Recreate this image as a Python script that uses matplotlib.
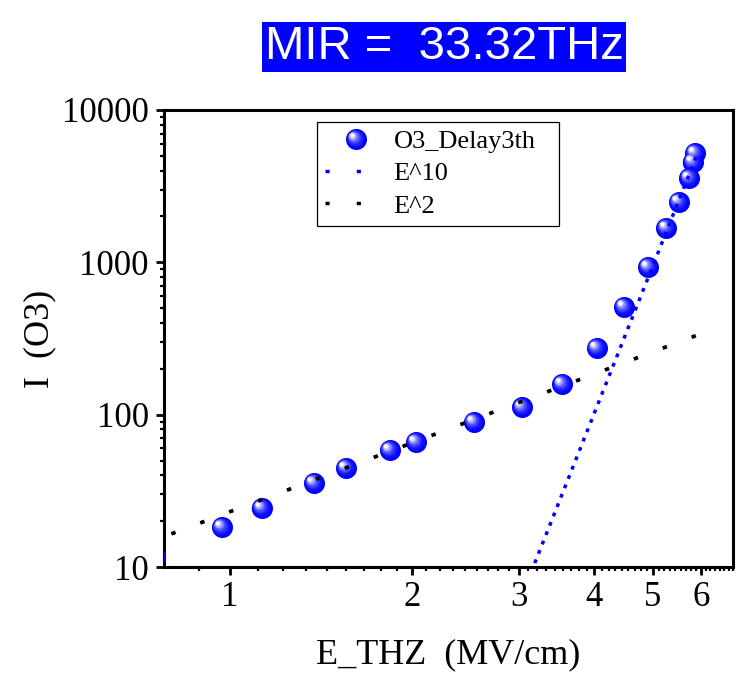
import numpy as np
import matplotlib
matplotlib.use("Agg")
import matplotlib.pyplot as plt
from matplotlib.lines import Line2D
from matplotlib.legend_handler import HandlerBase
from matplotlib.transforms import offset_copy
from matplotlib.ticker import FixedLocator, FuncFormatter, LogLocator

# --------------------------------------------
# DATA
# --------------------------------------------
e_thz = [0.753, 0.970, 1.129, 1.377, 1.555, 1.838, 2.03, 2.53, 3.04, 3.54,
         4.04, 4.48, 4.91, 5.26, 5.52, 5.74, 5.82, 5.87]
i_o3 = [11.6, 18.3, 24.4, 35.6, 44.7, 58.7, 66.2, 89.5, 112, 159,
        274, 510, 933, 1682, 2493, 3581, 4563, 5226]

# guide lines, endpoints only (straight on log-log)
e10_x = [3.10, 5.90]
e10_y = [8.0, 4990]
e2_x = [0.80, 5.92]
e2_y = [16.5, 333]

x_major = [1, 2, 3, 4, 5, 6]
title_text = "MIR =  33.32THz"

BLUE = "#0000ff"
PX = 72.0 / 100  # points per pixel at dpi 100
SERIF = "Liberation Serif"

fig = plt.figure(figsize=(7.52, 6.76), dpi=100)
ax = fig.add_axes([164 / 752, 1 - 567 / 676, (733 - 164) / 752, (567 - 110) / 676])
ax.set_xscale("log")
ax.set_yscale("log")
ax.set_xlim(0.778, 6.78)
ax.set_ylim(10, 10000)


# --------------------------------------------
# shaded "sphere" markers
# --------------------------------------------
def sphere_layers(n=12, diam_px=21):
    out = []
    for i in range(n):
        t = i / (n - 1)
        d = diam_px * (1 - 0.82 * t)
        w = t ** 2.0
        col = (w, w, 1.0)
        out.append((d * PX, col, -3.3 * t, 3.0 * t))
    return out


for ms, col, dx, dy in sphere_layers():
    tr = offset_copy(ax.transData, fig=fig, x=dx, y=dy, units="points")
    ax.plot(e_thz, i_o3, "o", ms=ms, mfc=col, mec="none", transform=tr,
            zorder=3, clip_on=True)

dot_blue = (0, (1.1, 1.8))
dot_black = (0, (1.2, 7.04))
ax.plot(e10_x, e10_y, color=BLUE, lw=2.5, ls=dot_blue, dash_capstyle="butt", zorder=4)
ax.plot(e2_x, e2_y, color="black", lw=2.7, ls=dot_black, dash_capstyle="butt", zorder=4)


class SphereHandler(HandlerBase):
    def create_artists(self, legend, orig_handle, xdescent, ydescent,
                       width, height, fontsize, trans):
        cx = width * 0.74 - xdescent
        cy = height / 2 - ydescent
        arts = []
        for ms, col, dx, dy in sphere_layers():
            ln = Line2D([cx + dx], [cy + dy], marker="o", ms=ms, mfc=col,
                        mec="none", ls="none", transform=trans)
            arts.append(ln)
        return arts


sphere_proxy = Line2D([], [], ls="none", marker="o")
leg_dots = (0, (1.2, 7.8))
h10 = Line2D([], [], color=BLUE, lw=2.5, ls=leg_dots, dash_capstyle="butt")
h2 = Line2D([], [], color="black", lw=2.5, ls=leg_dots, dash_capstyle="butt")
leg = ax.legend([sphere_proxy, h10, h2], ["O3_Delay3th", "E^10", "E^2"],
                handler_map={sphere_proxy: SphereHandler()},
                loc="upper left", bbox_to_anchor=(0.269, 0.755, 0.425, 0.219),
                mode="expand",
                borderaxespad=0, fancybox=False, framealpha=1,
                edgecolor="black", handlelength=1.6, handletextpad=1.0,
                borderpad=0.3, labelspacing=0.33,
                prop={"family": SERIF, "size": 19})
leg.get_frame().set_linewidth(0.9)
leg.set_zorder(5)

# --------------------------------------------
# AXES STYLE
# --------------------------------------------
for sp in ax.spines.values():
    sp.set_linewidth(2.2)

ax.xaxis.set_major_locator(FixedLocator(x_major))
ax.xaxis.set_minor_locator(FixedLocator(
    [n + k / 9 for n in range(0, 7) for k in range(1, 9)]))
ax.xaxis.set_major_formatter(FuncFormatter(lambda v, p: f"{v:g}"))
ax.xaxis.set_minor_formatter(FuncFormatter(lambda v, p: ""))
ax.yaxis.set_major_locator(LogLocator(base=10, numticks=10))
ax.yaxis.set_minor_locator(LogLocator(base=10, subs=np.arange(2, 10), numticks=10))
ax.yaxis.set_major_formatter(FuncFormatter(lambda v, p: f"{v:.0f}"))
ax.yaxis.set_minor_formatter(FuncFormatter(lambda v, p: ""))

ax.tick_params(which="major", direction="out", length=6, width=2.0,
               top=False, right=False)
ax.tick_params(which="minor", direction="out", length=3, width=1.6,
               top=False, right=False)
ax.tick_params(axis="x", which="major", pad=4)
ax.tick_params(axis="y", which="major", pad=5)
for lbl in ax.get_xticklabels() + ax.get_yticklabels():
    lbl.set_fontfamily(SERIF)
    lbl.set_fontsize(25)

ax.set_xlabel("E_THZ  (MV/cm)", family=SERIF, fontsize=26)
ax.set_ylabel("I  (O3)", family=SERIF, fontsize=26)
ax.xaxis.set_label_coords(0.5, -0.155)
ax.yaxis.set_label_coords(-0.19, 0.5)

fig.text(444 / 752, 1 - 47 / 676, title_text, ha="center", va="center",
         family="Liberation Sans", fontsize=34, color="white",
         bbox=dict(boxstyle="square,pad=0.06", facecolor=BLUE, edgecolor="none"))

fig.savefig("out.png", dpi=100)
